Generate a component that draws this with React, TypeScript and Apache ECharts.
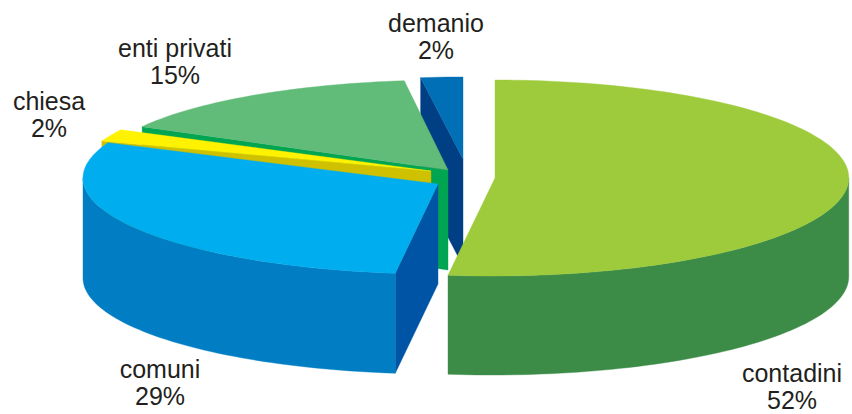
import React, { useEffect, useRef } from "react";
import * as echarts from "echarts";

const categories = ["contadini", "comuni", "chiesa", "enti privati", "demanio"];
const shares = [52, 29, 2, 15, 2];

const topColors = ["#9DCB3B", "#00AEEF", "#FFF200", "#60BC78", "#006FB6"];
const rimColors = ["#3C8C48", "#007DC3", "#CFC000", "#00A551", "#003F84"];
const cutColors = ["#3C8C48", "#0054A6", "#CFC000", "#00A551", "#003F84"];

// Each wedge is pulled out on its own, so each has its own tip and ellipse.
// `lean` moves the near edge of the ellipse sideways, as the camera's perspective does.
const wedgeLayout = [
  { tip: [495, 178], centre: [495, 178], rx: 355, ry: 98, lean: -2.5, depth: 99, label: [792, 382] },
  { tip: [438, 184], centre: [440, 178], rx: 357, ry: 96, lean: 0, depth: 100, label: [160, 378] },
  { tip: [431, 171], centre: [431, 177], rx: 354, ry: 98, lean: 0, depth: 100, label: [49, 110] },
  { tip: [448, 170], centre: [448, 170], rx: 349, ry: 90, lean: 0, depth: 100, label: [175, 57] },
  { tip: [463, 159], centre: [463, 159], rx: 338, ry: 82, lean: 0, depth: 107, label: [436, 32] },
];

const LINE_GAP = 27;
const BASELINE_TO_CENTRE = 8.8;
const DEG = Math.PI / 180;

type Wedge = (typeof wedgeLayout)[number];

const onEllipse = (w: Wedge, deg: number, drop = 0) => {
  const c = Math.cos(deg * DEG);
  return [
    w.centre[0] + w.rx * Math.sin(deg * DEG) + (w.lean * (1 - c)) / 2,
    w.centre[1] - w.ry * c + drop,
  ];
};

const arc = (w: Wedge, from: number, to: number, drop = 0) => {
  const steps = Math.max(2, Math.ceil(Math.abs(to - from) / 1.5));
  const pts: number[][] = [];
  for (let i = 0; i <= steps; i++) pts.push(onEllipse(w, from + ((to - from) * i) / steps, drop));
  return pts;
};

// Wedge angles, clockwise from twelve o'clock.
const total = shares.reduce((a, b) => a + b, 0);
const spans = shares.map((_, i) => {
  const before = shares.slice(0, i).reduce((a, b) => a + b, 0);
  return [(before / total) * 360, ((before + shares[i]) / total) * 360];
});

// Back wedges are painted first so the nearer ones cover them.
const paintOrder = shares.map((_, i) => shares.length - 1 - i);

const polygon = (points: number[][], fill: string) => ({
  type: "polygon",
  shape: { points },
  style: { fill, stroke: fill, lineWidth: 0.4 },
  silent: true,
});

const labelLine = (text: string, x: number, baseline: number) => ({
  type: "text",
  x,
  y: baseline - BASELINE_TO_CENTRE,
  silent: true,
  style: {
    text,
    fontFamily: "Liberation Sans",
    fontSize: 25,
    lineHeight: 18,
    fill: "#231F20",
    align: "center",
    verticalAlign: "middle",
  },
});

function renderWedge(params: any) {
  const i = paintOrder[params.dataIndex];
  const w = wedgeLayout[i];
  const [a0, a1] = spans[i];
  const children: any[] = [];
  const d = w.depth;

  // Cut face along the wedge's clockwise-first edge; the far edge always stays hidden.
  if (i > 0) {
    const edge = onEllipse(w, a0);
    children.push(
      polygon([w.tip, edge, [edge[0], edge[1] + d], [w.tip[0], w.tip[1] + d]], cutColors[i])
    );
  }

  // Rounded outer wall, only for the part of the rim on the near side.
  const from = Math.max(a0, 90);
  const to = Math.min(a1, 270);
  if (to > from) {
    children.push(polygon([...arc(w, from, to), ...arc(w, to, from, d)], rimColors[i]));
  }

  children.push(polygon([w.tip, ...arc(w, a0, a1)], topColors[i]));

  children.push(labelLine(categories[i], w.label[0], w.label[1]));
  children.push(labelLine(`${shares[i]}%`, w.label[0], w.label[1] + LINE_GAP));

  return { type: "group", children };
}

export default function App() {
  const ref = useRef<HTMLDivElement>(null);
  useEffect(() => {
    const chart = echarts.init(ref.current!, undefined, { renderer: "svg" });
    chart.setOption({
      animation: false,
      backgroundColor: "#FFFFFF",
      series: [
        {
          type: "custom",
          coordinateSystem: "none",
          renderItem: renderWedge,
          data: paintOrder.map((i) => shares[i]),
          clip: false,
        },
      ],
    });
    return () => chart.dispose();
  }, []);
  return (
    <div
      ref={ref}
      style={{ position: "fixed", left: 0, top: 0, width: 852, height: 414 }}
    />
  );
}
